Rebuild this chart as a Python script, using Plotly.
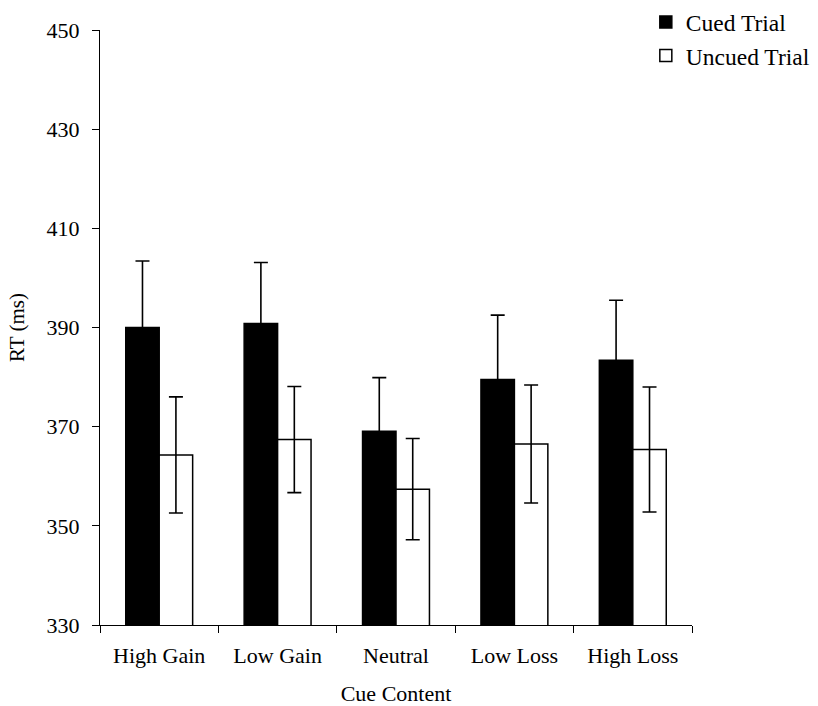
import plotly.graph_objects as go

categories = ["High Gain", "Low Gain", "Neutral", "Low Loss", "High Loss"]
cued_rt = [390.0, 390.8, 369.1, 379.5, 383.4]
cued_err = [13.4, 12.3, 10.8, 13.0, 12.1]
uncued_rt = [364.3, 367.4, 357.4, 366.5, 365.4]
uncued_err = [11.7, 10.7, 10.2, 11.9, 12.6]
y_ticks = [330, 350, 370, 390, 410, 430, 450]

FONT = "Liberation Serif, Times New Roman, serif"

fig = go.Figure()
fig.add_trace(go.Bar(
    name="Cued Trial", x=categories, y=cued_rt,
    marker=dict(color="black", line=dict(color="black", width=1.5)),
    error_y=dict(type="data", array=cued_err, visible=True, color="black",
                 thickness=1.6, width=7),
))
fig.add_trace(go.Bar(
    name="Uncued Trial", x=categories, y=uncued_rt,
    marker=dict(color="white", line=dict(color="black", width=1.5)),
    error_y=dict(type="data", array=uncued_err, visible=True, color="black",
                 thickness=1.6, width=7),
))

fig.update_layout(
    width=818, height=706,
    margin=dict(l=100, r=126, t=30, b=81, autoexpand=False),
    paper_bgcolor="white", plot_bgcolor="white",
    barmode="group", bargap=0.435, bargroupgap=0,
    font=dict(family=FONT, size=22, color="black"),
    showlegend=True,
    legend=dict(x=0.922, y=1.05, xanchor="left", yanchor="top",
                font=dict(family=FONT, size=23.5, color="black"),
                bgcolor="rgba(0,0,0,0)", tracegroupgap=0),
    xaxis=dict(
        type="category", showline=True, linecolor="black", linewidth=1.2,
        ticks="outside", tickson="boundaries", ticklen=7, tickcolor="black",
        tickwidth=1.2, showgrid=False, zeroline=False, ticklabelstandoff=10,
        tickfont=dict(family=FONT, size=22, color="black"),
        title=dict(text="Cue Content", standoff=20,
                   font=dict(family=FONT, size=22, color="black")),
    ),
    yaxis=dict(
        range=[330, 450], tickvals=y_ticks, showline=True, linecolor="black",
        linewidth=1.2, ticks="outside", ticklen=7, tickcolor="black",
        tickwidth=1.2, showgrid=False, zeroline=False, ticklabelstandoff=8,
        tickfont=dict(family=FONT, size=22, color="black"),
        title=dict(text="RT (ms)", standoff=16,
                   font=dict(family=FONT, size=21, color="black")),
    ),
)

fig.write_html("out.html")
